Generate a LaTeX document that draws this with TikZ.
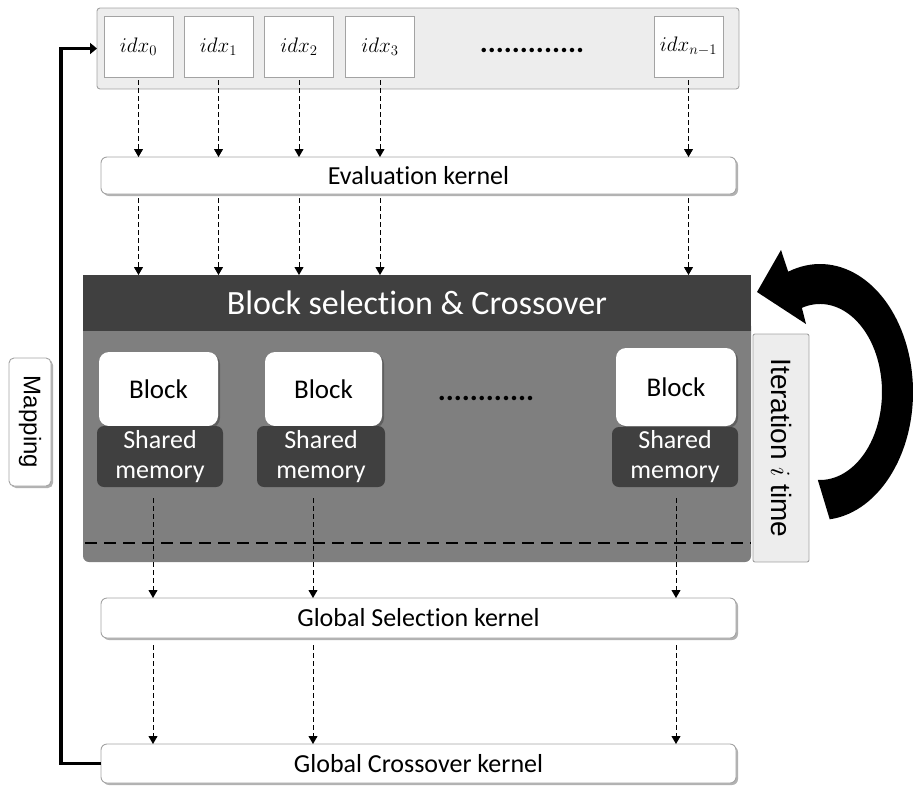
\documentclass[tikz,border=0pt]{standalone}
\usepackage{fix-cm}
\usepackage{fontspec}
\setmainfont[Ligatures=NoCommon]{Carlito}
\newfontfamily\labelfont{Liberation Sans}
\usetikzlibrary{arrows.meta,shadows,calc}

\definecolor{edgegray}{HTML}{A3A3A3}
\definecolor{panelgray}{HTML}{EDEDED}
\definecolor{darkfill}{HTML}{404040}
\definecolor{midgray}{HTML}{7F7F7F}

\begin{document}
\begin{tikzpicture}[x=1pt,y=-1pt,
  every node/.style={inner sep=0pt, outer sep=0pt},
  softshadow/.style={drop shadow={shadow xshift=2pt, shadow yshift=-2pt, opacity=0.3, fill=black}},
  panel/.style={draw=edgegray, fill=panelgray, line width=0.9pt, rounded corners=3pt},
  idxbox/.style={draw=edgegray, fill=white, line width=0.9pt, minimum width=69pt, minimum height=61pt,
                 font=\fontsize{21}{23}\selectfont},
  kernel/.style={draw=edgegray, fill=white, line width=0.9pt, rounded corners=6pt, softshadow,
                 minimum width=635pt, font=\fontsize{26}{30}\selectfont},
  blockbox/.style={fill=white, rounded corners=10pt, font=\fontsize{27}{30}\selectfont,
                   drop shadow={shadow xshift=2pt, shadow yshift=-2pt, opacity=0.25, fill=black}},
  smbox/.style={fill=darkfill, rounded corners=7pt, text=white, align=center,
                font=\fontsize{26}{30}\selectfont},
  dotrow/.style={font=\fontsize{30}{30}\selectfont\bfseries},
  dasharrow/.style={line width=0.9pt, dash pattern=on 5pt off 3pt,
                    -{Triangle[width=9pt,length=8pt]}},
  sidelabel/.style={rotate=-90, font=\labelfont\fontsize{24}{26}\selectfont},
]
\useasboundingbox (0,0) rectangle (913,785);

% index row
\node[panel, minimum width=642pt, minimum height=81pt] (top) at (418,48.5) {};
\node[idxbox] (idx0) at (138.5,46.5) {$idx_0$};
\node[idxbox] (idx1) at (218.5,46.5) {$idx_1$};
\node[idxbox] (idx2) at (299,46.5) {$idx_2$};
\node[idxbox] (idx3) at (380,46.5) {$idx_3$};
\node[idxbox] (idxn) at (688.5,46.5) {$idx_{n-1}$};
\node[dotrow] (topdots) at (532,50) {.............};

% evaluation kernel
\node[kernel, minimum height=37pt] (eval) at (418.5,175.5) {Evaluation kernel};

% block region
\node[fill=midgray, rounded corners=6pt, minimum width=668pt, minimum height=242pt] (gray) at (417,441) {};
\node[fill=darkfill, minimum width=668pt, minimum height=56pt, text=white,
      font=\fontsize{34}{36}\selectfont] (bar) at (417,303) {Block selection \& Crossover};

\node[blockbox, minimum width=119pt, minimum height=74pt] (blk1) at (158.5,389) {Block};
\node[blockbox, minimum width=117pt, minimum height=74pt] (blk2) at (323.5,389) {Block};
\node[blockbox, minimum width=120pt, minimum height=78pt] (blk3) at (676,387) {Block};
\node[smbox, minimum width=126pt, minimum height=61pt] (sm1) at (160,456.5) {Shared\\memory};
\node[smbox, minimum width=128pt, minimum height=61pt] (sm2) at (321,456.5) {Shared\\memory};
\node[smbox, minimum width=126pt, minimum height=60pt] (sm3) at (675,457) {Shared\\memory};
\node[dotrow] (middots) at (486,398) {............};

\draw[line width=2.5pt, dash pattern=on 12pt off 7pt]
  ($(gray.south west)+(2,-19)$) -- ($(gray.south east)+(0,-19)$);

% iteration label and loop arrow
\node[panel, rounded corners=2pt, minimum width=228pt, minimum height=56pt, sidelabel,
      font=\labelfont\fontsize{28}{30}\selectfont] (iter) at (781,448) {Iteration $i$ time};
\fill[black]
  ($(820,392)+(84:93 and 128)$) arc[start angle=84, end angle=-110, x radius=93, y radius=128]
  -- (781,250) -- (757,292) -- (806,324)
  -- ($(820,392)+(-107:62 and 88)$) arc[start angle=-107, end angle=92, x radius=62, y radius=88]
  -- cycle;

% global kernels
\node[kernel, minimum height=40pt] (gsel) at (418.5,618) {Global Selection kernel};
\node[kernel, minimum height=39pt] (gcross) at (418.5,763.5) {Global Crossover kernel};

% mapping feedback
\node[draw=edgegray, fill=white, line width=0.9pt, rounded corners=5pt, softshadow, sidelabel,
      minimum width=128pt, minimum height=42pt] (map) at (30,422) {Mapping};
\draw[line width=3.5pt, -{Triangle[width=11pt,length=7pt]}]
  (gcross.west) -- ++(-40,0) |- (top.west);

% dashed flow: index row -> evaluation -> block selection
\foreach \n in {idx0,idx1,idx2,idx3,idxn}{
  \draw[dasharrow] ($(\n.south)+(0,3)$) -- (\n.south |- eval.north);
  \draw[dasharrow] ($(\n.south |- eval.south)+(0,4)$) -- (\n.south |- bar.north);
}

% dashed flow: shared memory -> global selection -> global crossover
\coordinate (s1) at ($(sm1.south)+(-7,11)$);
\coordinate (s2) at ($(sm2.south)+(-8,11)$);
\coordinate (s3) at ($(sm3.south)+(1,11)$);
\foreach \s in {s1,s2,s3}{
  \draw[dasharrow] (\s) -- (\s |- gsel.north);
  \draw[dasharrow] ($(\s |- gsel.south)+(0,7)$) -- (\s |- gcross.north);
}
\end{tikzpicture}
\end{document}
